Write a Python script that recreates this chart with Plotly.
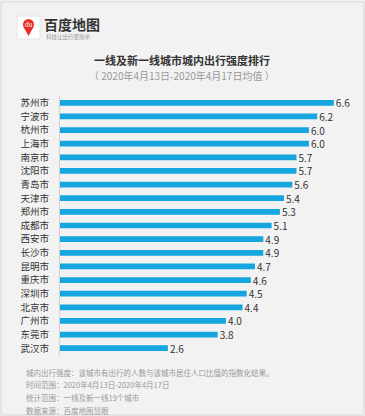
import plotly.graph_objects as go

cities = ["苏州市", "宁波市", "杭州市", "上海市", "南京市", "沈阳市", "青岛市", "天津市", "郑州市", "成都市",
          "西安市", "长沙市", "昆明市", "重庆市", "深圳市", "北京市", "广州市", "东莞市", "武汉市"]
values = [6.6, 6.2, 6.0, 6.0, 5.7, 5.7, 5.6, 5.4, 5.3, 5.1,
          4.9, 4.9, 4.7, 4.6, 4.5, 4.4, 4.0, 3.8, 2.6]
value_labels = [f"\u2009{v:.1f}" for v in values]

title_text = "一线及新一线城市城内出行强度排行"
subtitle_text = "（ 2020年4月13日-2020年4月17日均值 ）"
notes = ["城内出行强度：该城市有出行的人数与该城市居住人口比值的指数化结果。",
         "时间范围：2020年4月13日-2020年4月17日",
         "统计范围：一线及新一线19个城市",
         "数据来源：百度地图慧眼"]

W, H = 365, 416
ML, MR, MT, MB = 60, 15, 96, 61
PW, PH = W - ML - MR, H - MT - MB
FONT = "Noto Sans CJK SC"


def px(x):
    return (x - ML) / PW


def py(y):
    return (H - MB - y) / PH


fig = go.Figure(go.Bar(
    x=values, y=cities, orientation="h",
    marker=dict(color="#15a6e0", line=dict(width=0)),
    width=0.42,
    text=value_labels, textposition="outside", cliponaxis=False, constraintext="none",
    textfont=dict(size=10, color="#333333", family=FONT),
    hoverinfo="skip",
))

shapes = [
    dict(type="rect", xref="paper", yref="paper", x0=px(1), x1=px(364), y0=py(415), y1=py(2),
         line=dict(color="#d6d6d6", width=1), fillcolor="rgba(0,0,0,0)", layer="below"),
    # logo tile
    dict(type="rect", xref="paper", yref="paper", x0=px(17), x1=px(40), y0=py(39), y1=py(16),
         line=dict(color="#e6e6e6", width=1), fillcolor="#ffffff"),
    dict(type="path", xref="paper", yref="paper",
         path=f"M {px(23.5)} {py(27)} L {px(28.5)} {py(36)} L {px(33.5)} {py(27)} Z",
         fillcolor="#e8302a", line=dict(width=0)),
    dict(type="circle", xref="paper", yref="paper", x0=px(23), x1=px(34), y0=py(30), y1=py(19),
         fillcolor="#e8302a", line=dict(width=0)),
    dict(type="circle", xref="paper", yref="paper", x0=px(24.5), x1=px(32.5), y0=py(37.5), y1=py(35.5),
         fillcolor="#4aa3df", line=dict(width=0), layer="below"),
]

annotations = [
    dict(text="du", x=px(28.5), y=py(24.5), xref="paper", yref="paper", showarrow=False,
         font=dict(size=6, color="#ffffff", family=FONT), xanchor="center", yanchor="middle"),
    dict(text="<b>百度地图</b>", x=px(42), y=py(23.5), xref="paper", yref="paper", showarrow=False,
         font=dict(size=14, color="#333333", family=FONT), xanchor="left", yanchor="middle"),
    dict(text="科技让出行更简单", x=px(44), y=py(37.5), xref="paper", yref="paper", showarrow=False,
         font=dict(size=5.5, color="#999999", family=FONT), xanchor="left", yanchor="middle"),
    dict(text=f"<b>{title_text}</b>", x=px(182), y=py(60), xref="paper", yref="paper", showarrow=False,
         font=dict(size=11, color="#333333", family=FONT), xanchor="center", yanchor="middle"),
    dict(text=subtitle_text, x=px(182), y=py(76), xref="paper", yref="paper", showarrow=False,
         font=dict(size=10, color="#999999", family=FONT), xanchor="center", yanchor="middle"),
]
for i, n in enumerate(notes):
    annotations.append(dict(text=n, x=px(24), y=py(372 + i * 12.8), xref="paper", yref="paper",
                            showarrow=False, font=dict(size=7.5, color="#999999", family=FONT),
                            xanchor="left", yanchor="middle"))

fig.update_layout(
    width=W, height=H,
    margin=dict(l=ML, r=MR, t=MT, b=MB),
    paper_bgcolor="#f2f2f2", plot_bgcolor="#f2f2f2",
    showlegend=False,
    xaxis=dict(visible=False, range=[0, 6.99], fixedrange=True),
    yaxis=dict(autorange="reversed", showline=True, linecolor="#d0d0d0", linewidth=1,
               showgrid=False, ticks="", ticklabelstandoff=8,
               tickfont=dict(size=9.5, color="#333333", family=FONT), fixedrange=True),
    shapes=shapes, annotations=annotations,
    font=dict(family=FONT),
)

fig.write_html("out.html", config={"displayModeBar": False},
               post_script="document.body.style.margin='0';document.body.style.overflow='hidden';")
